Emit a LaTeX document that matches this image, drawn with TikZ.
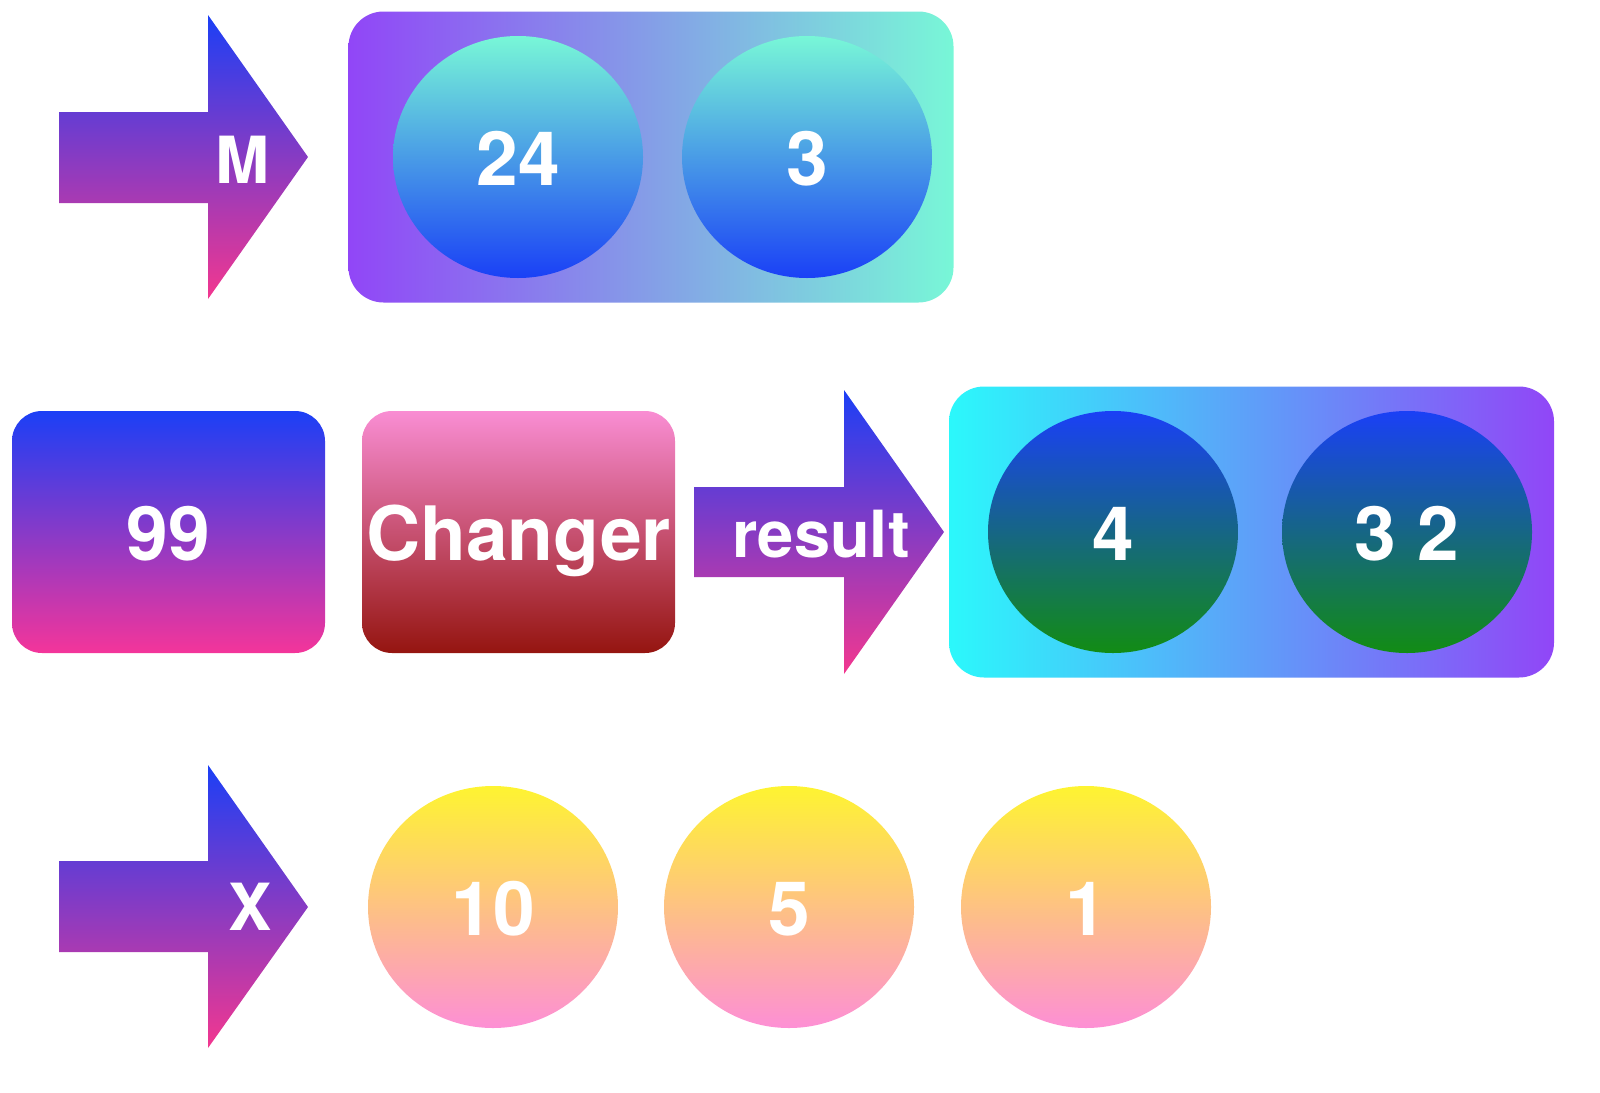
\documentclass[tikz,border=0pt]{standalone}
\usepackage{fontspec}
\setmainfont{TeX Gyre Heros}
\usetikzlibrary{shapes.geometric}

\definecolor{arrowtop}{HTML}{1B3FF6}
\definecolor{arrowbot}{HTML}{F3378F}
\definecolor{violet}{HTML}{9146F7}
\definecolor{mint}{HTML}{78F7D7}
\definecolor{deepblue}{HTML}{1A40F6}
\definecolor{hotpink}{HTML}{F4359A}
\definecolor{rosetop}{HTML}{F98DD3}
\definecolor{maroon}{HTML}{951510}
\definecolor{aqua}{HTML}{2BF8FB}
\definecolor{leafgreen}{HTML}{128C14}
\definecolor{lemon}{HTML}{FEF431}
\definecolor{candy}{HTML}{FD8FD5}

\begin{document}
\begin{tikzpicture}[x=1pt,y=-1pt,
    every node/.style={inner sep=0pt, text=white},
    valtext/.style={font=\bfseries\fontsize{75}{78}\selectfont, text height=56pt, text depth=0pt},
    arrowtext/.style={font=\bfseries\fontsize{65}{68}\selectfont, anchor=base},
    arrowfill/.style={top color=arrowtop, bottom color=arrowbot},
    cell/.style={valtext, rectangle, rounded corners=30pt, minimum width=313pt, minimum height=242pt},
    tuple/.style={rectangle, rounded corners=35pt, minimum width=605pt, minimum height=291pt},
    bubble/.style={valtext, ellipse, minimum width=250pt, minimum height=242pt}]
    \useasboundingbox (0,0) rectangle (1600,1092);

    % row 1: M -> (24, 3)
    \shade[arrowfill] (59,112) -- (208,112) -- (208,15) -- (308,157) -- (208,299) -- (208,203) -- (59,203) -- cycle;
    \node[arrowtext] (mlabel) at (243,183) {M};
    \node[tuple, left color=violet, right color=mint] (mtuple) at (651,157) {};
    \node[bubble, top color=mint, bottom color=deepblue] (m1) at (518,157) {24};
    \node[bubble, top color=mint, bottom color=deepblue] (m2) at (807,157) {3};

    % row 2: 99, Changer, result -> (4, 3 2)
    \node[cell, top color=arrowtop, bottom color=hotpink] (ninetynine) at (168.5,532) {99};
    \node[cell, top color=rosetop, bottom color=maroon] (changer) at (518.5,532) {Changer};
    \shade[arrowfill] (694,487) -- (844,487) -- (844,390) -- (944,532) -- (844,674) -- (844,577) -- (694,577) -- cycle;
    \node[arrowtext] (rlabel) at (821,557) {result};
    \node[tuple, left color=aqua, right color=violet] (rtuple) at (1251.5,532) {};
    \node[bubble, top color=deepblue, bottom color=leafgreen] (r1) at (1113,532) {4};
    \node[bubble, top color=deepblue, bottom color=leafgreen] (r2) at (1407,532) {3 2};

    % row 3: X -> 10 5 1
    \shade[arrowfill] (59,861) -- (208,861) -- (208,765) -- (308,907) -- (208,1048) -- (208,952) -- (59,952) -- cycle;
    \node[arrowtext] (xlabel) at (250,930) {X};
    \node[bubble, top color=lemon, bottom color=candy] (x1) at (493,907) {10};
    \node[bubble, top color=lemon, bottom color=candy] (x2) at (789,907) {5};
    \node[bubble, top color=lemon, bottom color=candy] (x3) at (1086,907) {1};
\end{tikzpicture}
\end{document}
